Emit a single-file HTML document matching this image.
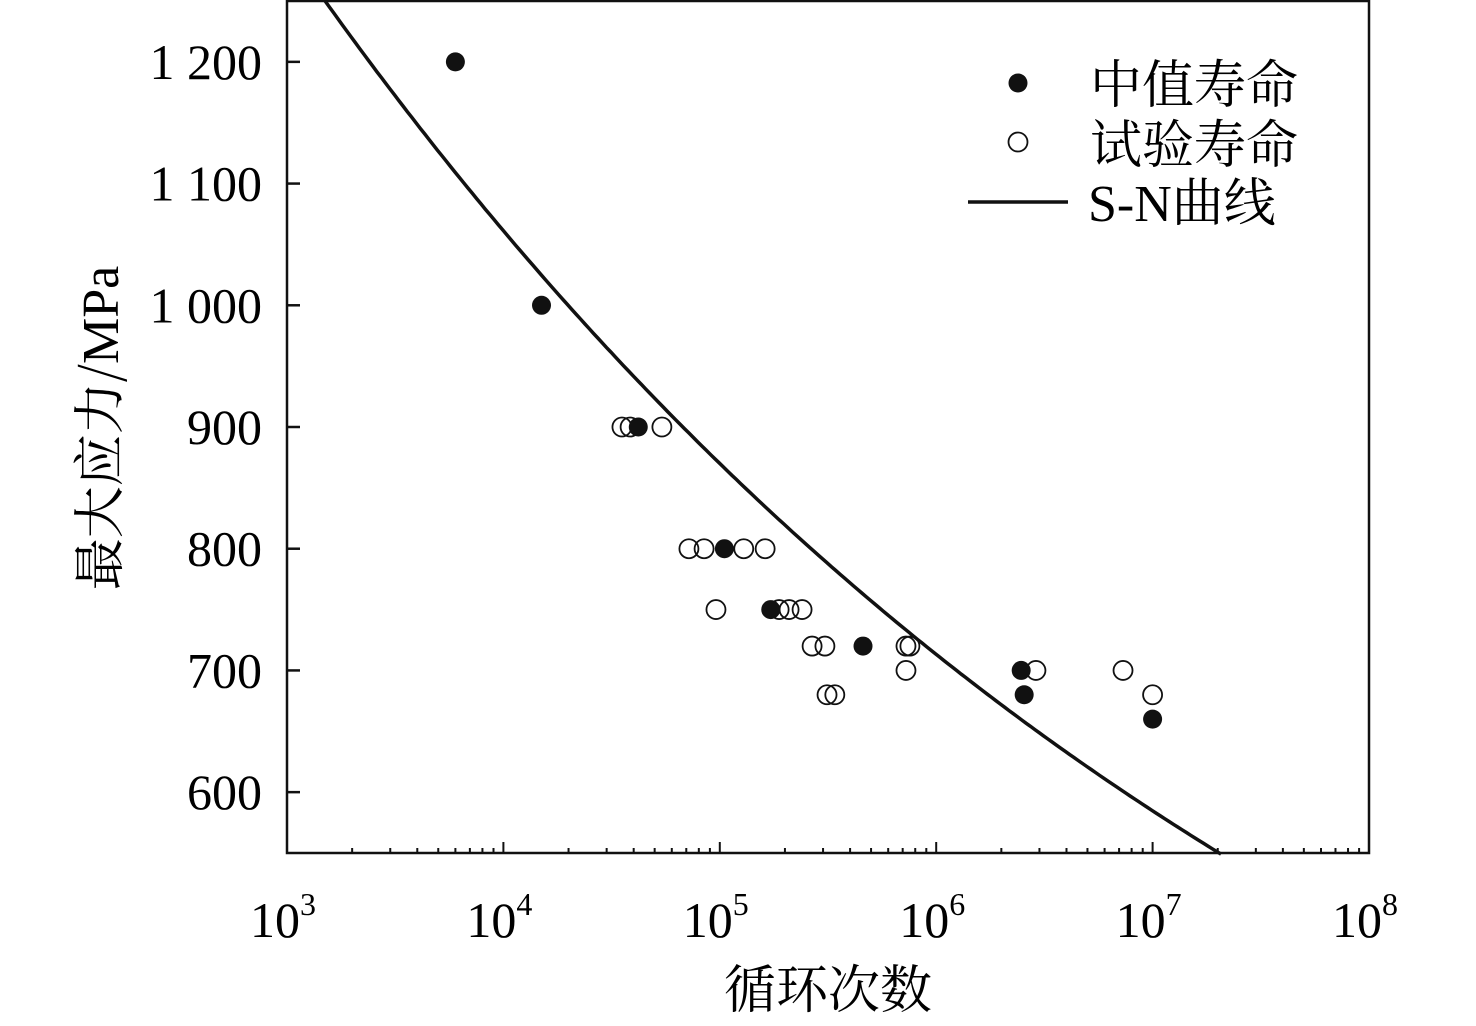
<!DOCTYPE html>
<html><head><meta charset="utf-8"><style>
html,body{margin:0;padding:0;background:#fff;}
svg{display:block;font-family:"Liberation Serif","Noto Serif CJK SC",serif;}
</style></head><body>
<svg id="chart" width="1476" height="1026" viewBox="0 0 1476 1026">
<g id="axes"></g><g id="curve"></g><g id="pts"></g>
<g>
<circle cx="1018" cy="83" r="9.5" fill="#111"/>
<text x="1090" y="103" font-size="52" font-family="'Noto Serif CJK SC',serif">中值寿命</text>
<circle cx="1018" cy="142" r="9.5" fill="none" stroke="#111" stroke-width="1.8"/>
<text x="1090" y="163" font-size="52" font-family="'Noto Serif CJK SC',serif">试验寿命</text>
<line x1="968" y1="202" x2="1068" y2="202" stroke="#111" stroke-width="3.5"/>
<text x="1088" y="221" font-size="52" font-family="'Liberation Serif','Noto Serif CJK SC',serif">S-N曲线</text>
</g>
<text x="0" y="0" font-size="52" text-anchor="middle" transform="translate(118,428) rotate(-90)" font-family="'Noto Serif CJK SC',serif">最大应力/<tspan font-family="'Liberation Serif',serif">MPa</tspan></text>
<text x="828" y="1008" font-size="52" text-anchor="middle" font-family="'Noto Serif CJK SC',serif">循环次数</text>
</svg>
<script>
const medianN=[6000,15000,42000,105000,172000,459000,2470000,2550000,10000000];
const medianS=[1200,1000,900,800,750,720,700,680,660];
const testN=[35300,38500,54000,72000,84600,129000,162000,96000,188000,209000,240000,267000,306000,725000,756000,725000,2890000,7300000,313000,340000,10000000];
const testS=[900,900,900,800,800,800,800,750,750,750,750,720,720,720,720,700,700,700,680,680,680];
const yTicks=[600,700,800,900,1000,1100,1200];
const yTickLabels=["600","700","800","900","1 000","1 100","1 200"];
const xDecades=[3,4,5,6,7,8];
const curveA=1250, curveN0=1500, curveB=-0.0863;
const L=287,R=1369,T=1,B=853;
const xS=n=>L+(Math.log10(n)-3)/5*(R-L);
const yS=s=>B-(s-550)/700*(B-T);
const NS="http://www.w3.org/2000/svg";
function mk(t,a,p){const e=document.createElementNS(NS,t);for(const k in a)e.setAttribute(k,a[k]);p.appendChild(e);return e;}
const ax=document.getElementById('axes');
const fr=mk('rect',{x:L,y:T,width:R-L,height:B-T,fill:'none',stroke:'#111','stroke-width':2.5},ax);


yTicks.forEach((v,i)=>{
 const y=yS(v);
 const t=mk('line',{x1:L,x2:L+13,y1:y,y2:y,stroke:'#111','stroke-width':2.5},ax);
 
 
 const tx=mk('text',{x:262,y:y+17,'font-size':50,'text-anchor':'end'},ax);
 tx.textContent=yTickLabels[i];
 
 
});
xDecades.forEach(d=>{
 const x=xS(Math.pow(10,d));
 const t=mk('line',{x1:x,x2:x,y1:B,y2:B-11,stroke:'#111','stroke-width':2},ax);
 
 
 if(d<8)for(let m=2;m<=9;m++){const xm=xS(m*Math.pow(10,d));
  const mt=mk('line',{x1:xm,x2:xm,y1:B,y2:B-5,stroke:'#111','stroke-width':2},ax);
  
  }
 const tx=mk('text',{x:x-4,y:937,'font-size':50,'text-anchor':'middle'},ax);
 tx.innerHTML='10<tspan dy="-22" font-size="32">'+d+'</tspan>';
 
 
});
let d='';
for(let lg=Math.log10(curveN0);lg<=7.32;lg+=0.02){const n=Math.pow(10,lg);const s=curveA*Math.pow(n/curveN0,curveB);d+=(d?'L':'M')+xS(n).toFixed(1)+','+yS(s).toFixed(1);}
const cv=mk('path',{d:d,fill:'none',stroke:'#111','stroke-width':3.5},document.getElementById('curve'));


const pg=document.getElementById('pts');
testN.forEach((n,i)=>{const c=mk('circle',{cx:xS(n),cy:yS(testS[i]),r:9.5,fill:'#fff','fill-opacity':0,stroke:'#111','stroke-width':1.8},pg);
 
 });
medianN.forEach((n,i)=>{const c=mk('circle',{cx:xS(n),cy:yS(medianS[i]),r:9.5,fill:'#111'},pg);
 
 });
</script>
</body></html>
